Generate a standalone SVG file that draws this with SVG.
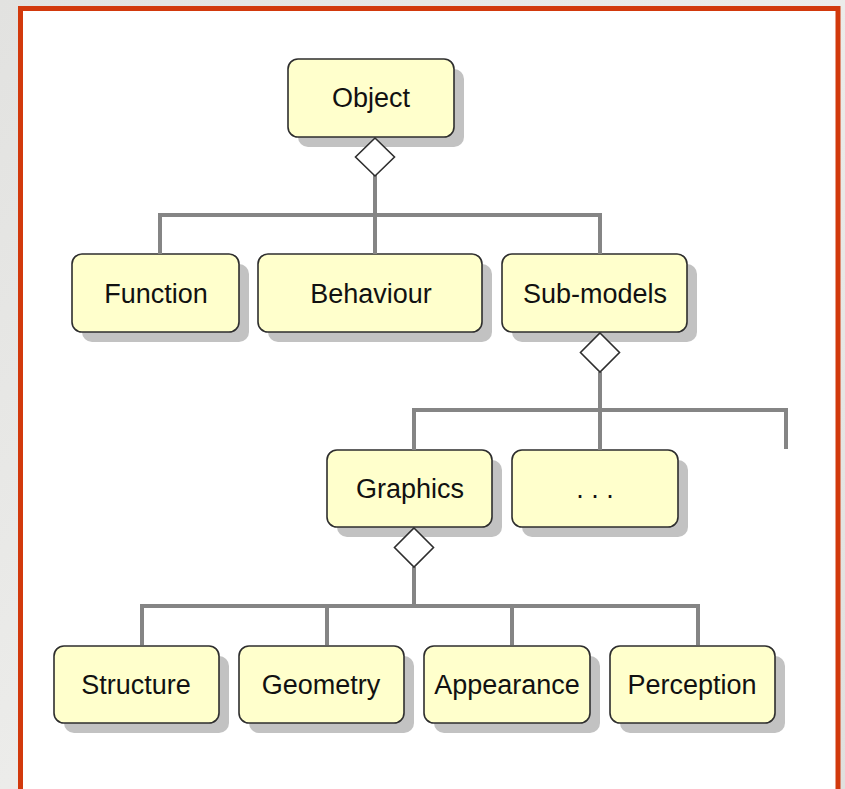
<svg xmlns="http://www.w3.org/2000/svg" width="845" height="789" viewBox="0 0 845 789">
  <style>
    .shadow { fill: #c2c2c2; }
    .box { fill: #ffffcc; stroke: #2e2e2e; stroke-width: 1.6; }
    .label { font-family: "Liberation Sans", Arial, sans-serif; font-size: 27px; fill: #111111; text-anchor: middle; }
    .wire { fill: none; stroke: #858585; stroke-width: 4; stroke-linejoin: miter; }
    .diamond { fill: #ffffff; stroke: #2e2e2e; stroke-width: 1.6; }
  </style>
  <defs>
    <linearGradient id="bgStreak" x1="0" y1="0" x2="1" y2="1">
      <stop offset="0" stop-color="#e2e2e0"/>
      <stop offset="0.5" stop-color="#ececea"/>
      <stop offset="1" stop-color="#e0e0de"/>
    </linearGradient>
  </defs>

  <!-- page background and frame -->
  <rect x="0" y="0" width="845" height="789" fill="url(#bgStreak)"/>
  <rect x="20.5" y="8.5" width="817.5" height="790" fill="#ffffff" stroke="#d2390c" stroke-width="5"/>

  <!-- nodes -->
  <g id="object">
    <rect class="shadow" x="298" y="69" width="166" height="78" rx="10"/>
    <rect class="box" x="288" y="59" width="166" height="78" rx="10"/>
    <text class="label" x="371" y="107">Object</text>
  </g>
  <g id="function">
    <rect class="shadow" x="82" y="264" width="167" height="78" rx="10"/>
    <rect class="box" x="72" y="254" width="167" height="78" rx="10"/>
    <text class="label" x="156" y="303">Function</text>
  </g>
  <g id="behaviour">
    <rect class="shadow" x="268" y="264" width="224" height="78" rx="10"/>
    <rect class="box" x="258" y="254" width="224" height="78" rx="10"/>
    <text class="label" x="371" y="303">Behaviour</text>
  </g>
  <g id="sub-models">
    <rect class="shadow" x="512" y="264" width="185" height="78" rx="10"/>
    <rect class="box" x="502" y="254" width="185" height="78" rx="10"/>
    <text class="label" x="595" y="303">Sub-models</text>
  </g>
  <g id="graphics">
    <rect class="shadow" x="337" y="460" width="165" height="77" rx="10"/>
    <rect class="box" x="327" y="450" width="165" height="77" rx="10"/>
    <text class="label" x="410" y="498">Graphics</text>
  </g>
  <g id="more">
    <rect class="shadow" x="522" y="460" width="166" height="77" rx="10"/>
    <rect class="box" x="512" y="450" width="166" height="77" rx="10"/>
    <text class="label" x="595" y="498">. . .</text>
  </g>
  <g id="structure">
    <rect class="shadow" x="64" y="656" width="165" height="77" rx="10"/>
    <rect class="box" x="54" y="646" width="165" height="77" rx="10"/>
    <text class="label" x="136" y="694">Structure</text>
  </g>
  <g id="geometry">
    <rect class="shadow" x="249" y="656" width="165" height="77" rx="10"/>
    <rect class="box" x="239" y="646" width="165" height="77" rx="10"/>
    <text class="label" x="321" y="694">Geometry</text>
  </g>
  <g id="appearance">
    <rect class="shadow" x="434" y="656" width="166" height="77" rx="10"/>
    <rect class="box" x="424" y="646" width="166" height="77" rx="10"/>
    <text class="label" x="507" y="694">Appearance</text>
  </g>
  <g id="perception">
    <rect class="shadow" x="620" y="656" width="165" height="77" rx="10"/>
    <rect class="box" x="610" y="646" width="165" height="77" rx="10"/>
    <text class="label" x="692" y="694">Perception</text>
  </g>

  <!-- connectors: aggregation diamonds sit on top of the parent shadows -->
  <g id="connectors">
    <path class="wire" d="M375 175 V254 M160 254 V215 H600 V254"/>
    <path class="wire" d="M600 372 V450 M414 450 V410 H786 V449"/>
    <path class="wire" d="M414 567 V606 M142 645 V606 H698 V645 M327 606 V645 M512 606 V645"/>
    <polygon class="diamond" points="375,138 394.5,157 375,176 355.5,157"/>
    <polygon class="diamond" points="600,333 619.5,352.5 600,372 580.5,352.5"/>
    <polygon class="diamond" points="414,528 433.5,547.5 414,567 394.5,547.5"/>
  </g>
</svg>
